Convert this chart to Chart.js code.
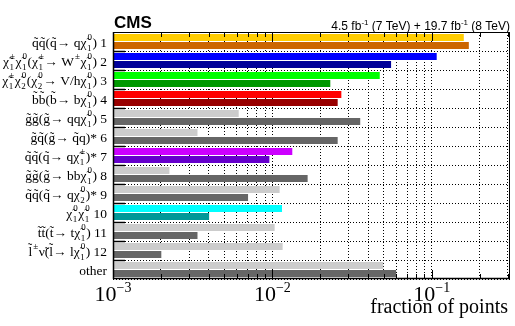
<!DOCTYPE html>
<html>
<head>
<meta charset="utf-8">
<script src="https://cdn.jsdelivr.net/npm/chart.js@4/dist/chart.umd.min.js"></script>
<style>
  html, body { margin: 0; padding: 0; background: #fff; }
</style>
</head>
<body>
<canvas id="chart" width="515" height="326"></canvas>
<script>
// category labels, {sup|sub} = stacked super/subscript
const categories = [
  'q̃q̃(q̃→ qχ̃{0|1}) 1',
  'χ̃{±|1}χ̃{0|1}(χ̃{±|1}→ W{±|}χ̃{0|1}) 2',
  'χ̃{±|1}χ̃{0|2}(χ̃{0|2}→ V/hχ̃{0|1}) 3',
  'b̃b̃(b̃→ bχ̃{0|1}) 4',
  'g̃g̃(g̃→ qqχ̃{0|1}) 5',
  'g̃q̃(g̃→ q̃q)* 6',
  'q̃q̃(q̃→ qχ̃{±|1})* 7',
  'g̃g̃(g̃→ bbχ̃{0|1}) 8',
  'q̃q̃(q̃→ qχ̃{0|2})* 9',
  'χ̃{0|1}χ̃{0|1} 10',
  't̃t̃(t̃→ tχ̃{0|1}) 11',
  'l̃{±|}ν̃(l̃→ lχ̃{0|1}) 12',
  'other'
];

// fraction of points, upper (light) and lower (dark) bar of each category
const fracLight = [0.159, 0.1075, 0.0472, 0.0271, 0.00615, 0.00339, 0.01334, 0.00226, 0.01111, 0.0115, 0.01034, 0.0116, 0.0496];
const fracDark  = [0.171, 0.0556, 0.0231, 0.0257, 0.0356, 0.0257, 0.00958, 0.01665, 0.00704, 0.00401, 0.00339, 0.00201, 0.0598];

const colorsLight = ['#ffcc00', '#0000ff', '#00ff00', '#ff0000', '#cccccc', '#cccccc', '#cc00ff', '#cccccc', '#cccccc', '#00ffff', '#cccccc', '#cccccc', '#cccccc'];
const colorsDark  = ['#cc6600', '#000099', '#009900', '#990000', '#666666', '#666666', '#6600cc', '#666666', '#666666', '#009999', '#666666', '#666666', '#666666'];

const xMin = 0.001, xMax = 0.31;
const decades = [0.001, 0.01, 0.1];
const decadeExp = ['−3', '−2', '−1'];

// 1..9 x 10^n grid positions
const gridVals = [];
decades.forEach(d => {
  for (let k = 1; k <= 9; k++) {
    const v = +(k * d).toPrecision(3);
    if (v >= xMin && v <= xMax) gridVals.push(v);
  }
});

const SERIF = '"Liberation Serif", "DejaVu Serif", serif';
const SANS = '"Liberation Sans", Arial, sans-serif';

function parseRich(str) {
  const parts = [];
  const re = /\{([^|}]*)\|([^}]*)\}/g;
  let last = 0, m;
  while ((m = re.exec(str))) {
    if (m.index > last) parts.push({ t: str.slice(last, m.index) });
    parts.push({ sup: m[1], sub: m[2] });
    last = re.lastIndex;
  }
  if (last < str.length) parts.push({ t: str.slice(last) });
  return parts;
}

function drawRich(ctx, str, xRight, y, size) {
  const parts = parseRich(str);
  const big = size + 'px ' + SERIF;
  const small = Math.round(size * 0.68) + 'px ' + SERIF;
  let w = 0;
  parts.forEach(p => {
    if (p.t !== undefined) {
      ctx.font = big;
      p.w = ctx.measureText(p.t).width;
    } else {
      ctx.font = small;
      p.w = Math.max(ctx.measureText(p.sup).width, ctx.measureText(p.sub).width) + 1.5;
    }
    w += p.w;
  });
  let x = xRight - w;
  ctx.textAlign = 'left';
  ctx.textBaseline = 'alphabetic';
  parts.forEach(p => {
    if (p.t !== undefined) {
      ctx.font = big;
      ctx.fillText(p.t, x, y);
    } else {
      ctx.font = small;
      if (p.sup) ctx.fillText(p.sup, x + 1, y - size * 0.48);
      if (p.sub) ctx.fillText(p.sub, x + 0.5, y + size * 0.32);
    }
    x += p.w;
  });
}

const decorations = {
  id: 'decorations',
  afterDraw(chart) {
    const ctx = chart.ctx;
    const area = chart.chartArea;
    const xs = chart.scales.x, ys = chart.scales.y;
    ctx.save();
    ctx.fillStyle = '#000';
    ctx.strokeStyle = '#000';

    // frame
    ctx.lineWidth = 1;
    ctx.strokeRect(Math.round(area.left) + 0.5, Math.round(area.top) + 0.5,
      Math.round(area.right - area.left) - 1, Math.round(area.bottom - area.top) - 1);
    ctx.lineWidth = 1.5;
    ctx.beginPath();
    ctx.moveTo(area.left, area.bottom - 0.5);
    ctx.lineTo(area.right, area.bottom - 0.5);
    ctx.moveTo(area.left + 0.5, area.top);
    ctx.lineTo(area.left + 0.5, area.bottom);
    ctx.stroke();

    // inward ticks on x
    ctx.lineWidth = 1;
    ctx.beginPath();
    gridVals.forEach(v => {
      const px = Math.round(xs.getPixelForValue(v)) + 0.5;
      const len = decades.includes(v) ? 9 : 5;
      ctx.moveTo(px, area.bottom);
      ctx.lineTo(px, area.bottom - len);
      ctx.moveTo(px, area.top);
      ctx.lineTo(px, area.top + len);
    });
    ctx.stroke();

    // ticks on y at category boundaries
    ctx.lineWidth = 1.5;
    ctx.beginPath();
    const n = categories.length;
    const step = (area.bottom - area.top) / n;
    for (let i = 1; i < n; i++) {
      const py = Math.round(area.top + i * step) + 0.5;
      ctx.moveTo(area.left, py);
      ctx.lineTo(area.left + 12, py);
    }
    ctx.stroke();

    // category labels
    ctx.fillStyle = '#000';
    categories.forEach((c, i) => {
      const py = ys.getPixelForValue(i);
      drawRich(ctx, c, area.left - 6, py + 5, 13.5);
    });

    // x tick labels
    decades.forEach((d, i) => {
      const px = xs.getPixelForValue(d);
      ctx.textBaseline = 'alphabetic';
      ctx.font = '22px ' + SERIF;
      const w1 = ctx.measureText('10').width;
      ctx.font = '14px ' + SERIF;
      const w2 = ctx.measureText(decadeExp[i]).width;
      const x0 = px - (w1 + w2) / 2;
      ctx.textAlign = 'left';
      ctx.font = '22px ' + SERIF;
      ctx.fillText('10', x0, 301);
      ctx.font = '14px ' + SERIF;
      ctx.fillText(decadeExp[i], x0 + w1, 292);
    });

    // axis title
    ctx.font = '20px ' + SERIF;
    ctx.textAlign = 'right';
    ctx.fillText('fraction of points', area.right - 2, 313);

    // header
    ctx.textAlign = 'left';
    ctx.font = 'bold 17px ' + SANS;
    ctx.fillText('CMS', area.left + 1, 28);

    const hdr = [['4.5 fb', 0], ['-1', 1], [' (7 TeV) + 19.7 fb', 0], ['-1', 1], [' (8 TeV)', 0]];
    let hw = 0;
    hdr.forEach(h => {
      ctx.font = (h[1] ? 8 : 12) + 'px ' + SANS;
      h.push(ctx.measureText(h[0]).width);
      hw += h[2];
    });
    let hx = area.right - hw;
    hdr.forEach(h => {
      ctx.font = (h[1] ? 8 : 12) + 'px ' + SANS;
      ctx.fillText(h[0], hx, h[1] ? 25 : 30);
      hx += h[2];
    });

    ctx.restore();
  }
};

const ctx = document.getElementById('chart').getContext('2d');
new Chart(ctx, {
  type: 'bar',
  data: {
    labels: categories,
    datasets: [
      { data: fracLight, backgroundColor: colorsLight, categoryPercentage: 0.82, barPercentage: 0.9 },
      { data: fracDark, backgroundColor: colorsDark, categoryPercentage: 0.82, barPercentage: 0.9 }
    ]
  },
  options: {
    indexAxis: 'y',
    responsive: false,
    animation: false,
    layout: { padding: { left: 113, right: 5, top: 32, bottom: 47 } },
    plugins: { legend: { display: false }, tooltip: { enabled: false } },
    scales: {
      x: {
        type: 'logarithmic',
        min: xMin,
        max: xMax,
        afterBuildTicks: s => { s.ticks = gridVals.map(v => ({ value: v })); },
        ticks: { display: false },
        grid: { color: '#000', lineWidth: 1, drawTicks: false },
        border: { display: false, dash: [1, 2] }
      },
      y: {
        type: 'category',
        ticks: { display: false },
        grid: { color: '#000', lineWidth: 1, drawTicks: false, offset: true },
        border: { display: false, dash: [1, 2] }
      }
    }
  },
  plugins: [decorations]
});
</script>
</body>
</html>
